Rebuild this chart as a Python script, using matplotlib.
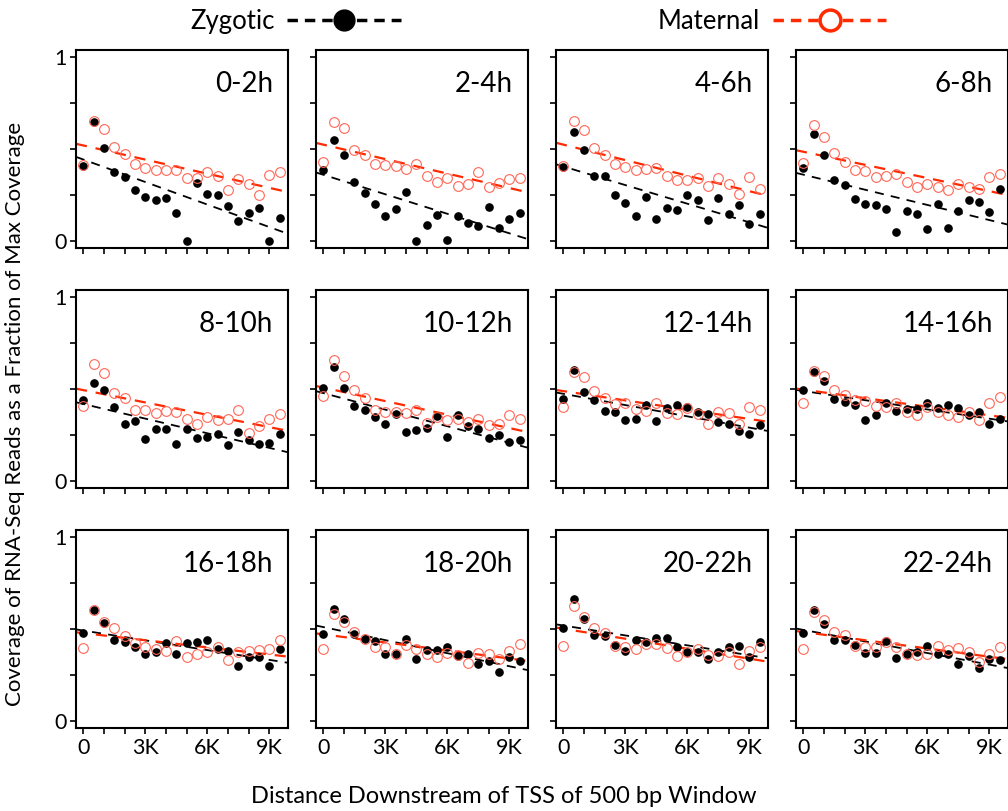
import numpy as np
import matplotlib
matplotlib.use("Agg")
import matplotlib.pyplot as plt
from matplotlib.lines import Line2D

plt.rcParams['font.family'] = ['Lato', 'DejaVu Sans']

# window start positions (bp downstream of TSS)
positions = np.arange(0, 10000, 500)

stages = ['0-2h', '2-4h', '4-6h', '6-8h', '8-10h', '10-12h',
          '12-14h', '14-16h', '16-18h', '18-20h', '20-22h', '22-24h']

zygotic = [
    [0.403, 0.647, 0.501, 0.373, 0.344, 0.275, 0.239, 0.221, 0.233, 0.150,
     0.000, 0.315, 0.251, 0.246, 0.186, 0.107, 0.152, 0.179, 0.000, 0.123],
    [0.383, 0.548, 0.467, 0.318, 0.260, 0.201, 0.132, 0.172, 0.266, 0.000,
     0.085, 0.141, 0.002, 0.132, 0.096, 0.081, 0.183, 0.071, 0.118, 0.148],
    [0.398, 0.593, 0.494, 0.351, 0.351, 0.248, 0.203, 0.134, 0.235, 0.119,
     0.175, 0.166, 0.248, 0.222, 0.112, 0.233, 0.145, 0.195, 0.092, 0.146],
    [0.396, 0.577, 0.468, 0.329, 0.300, 0.226, 0.197, 0.192, 0.172, 0.049,
     0.163, 0.145, 0.065, 0.199, 0.067, 0.159, 0.219, 0.208, 0.157, 0.280],
    [0.439, 0.533, 0.494, 0.400, 0.306, 0.324, 0.226, 0.278, 0.282, 0.197,
     0.278, 0.230, 0.239, 0.255, 0.193, 0.262, 0.222, 0.197, 0.206, 0.251],
    [0.501, 0.620, 0.503, 0.403, 0.382, 0.344, 0.307, 0.363, 0.262, 0.273,
     0.286, 0.349, 0.235, 0.354, 0.295, 0.278, 0.230, 0.246, 0.212, 0.222],
    [0.445, 0.599, 0.479, 0.436, 0.380, 0.374, 0.331, 0.333, 0.412, 0.325,
     0.396, 0.409, 0.398, 0.373, 0.360, 0.320, 0.307, 0.268, 0.251, 0.302],
    [0.490, 0.590, 0.542, 0.441, 0.430, 0.410, 0.327, 0.358, 0.423, 0.380,
     0.387, 0.391, 0.420, 0.394, 0.409, 0.396, 0.354, 0.371, 0.307, 0.336],
    [0.477, 0.602, 0.530, 0.436, 0.430, 0.398, 0.360, 0.371, 0.420, 0.360,
     0.421, 0.427, 0.439, 0.391, 0.378, 0.295, 0.344, 0.347, 0.298, 0.391],
    [0.472, 0.606, 0.550, 0.470, 0.445, 0.434, 0.365, 0.365, 0.445, 0.333,
     0.385, 0.385, 0.403, 0.351, 0.360, 0.307, 0.322, 0.264, 0.344, 0.322],
    [0.505, 0.662, 0.552, 0.467, 0.461, 0.409, 0.378, 0.436, 0.429, 0.452,
     0.452, 0.400, 0.373, 0.374, 0.336, 0.374, 0.398, 0.407, 0.344, 0.430],
    [0.477, 0.604, 0.523, 0.436, 0.438, 0.414, 0.369, 0.369, 0.432, 0.340,
     0.362, 0.371, 0.405, 0.365, 0.363, 0.309, 0.351, 0.284, 0.336, 0.329],
]

maternal = [
    [0.409, 0.653, 0.606, 0.508, 0.472, 0.418, 0.396, 0.383, 0.385, 0.385,
     0.340, 0.342, 0.371, 0.354, 0.275, 0.333, 0.309, 0.246, 0.358, 0.373],
    [0.429, 0.644, 0.611, 0.492, 0.465, 0.418, 0.409, 0.403, 0.392, 0.418,
     0.353, 0.318, 0.342, 0.295, 0.307, 0.374, 0.289, 0.313, 0.333, 0.342],
    [0.407, 0.651, 0.600, 0.501, 0.465, 0.414, 0.398, 0.383, 0.389, 0.394,
     0.353, 0.327, 0.327, 0.338, 0.295, 0.342, 0.306, 0.253, 0.347, 0.278],
    [0.423, 0.626, 0.561, 0.474, 0.425, 0.385, 0.380, 0.344, 0.353, 0.362,
     0.318, 0.289, 0.307, 0.293, 0.275, 0.309, 0.293, 0.278, 0.347, 0.360],
    [0.403, 0.633, 0.586, 0.477, 0.448, 0.382, 0.382, 0.365, 0.378, 0.373,
     0.335, 0.309, 0.345, 0.327, 0.335, 0.385, 0.260, 0.297, 0.333, 0.362],
    [0.459, 0.658, 0.570, 0.492, 0.448, 0.385, 0.371, 0.373, 0.367, 0.385,
     0.313, 0.347, 0.327, 0.333, 0.320, 0.335, 0.304, 0.309, 0.358, 0.335],
    [0.398, 0.590, 0.561, 0.488, 0.448, 0.418, 0.420, 0.391, 0.380, 0.420,
     0.365, 0.362, 0.392, 0.360, 0.307, 0.371, 0.365, 0.309, 0.401, 0.385],
    [0.421, 0.597, 0.571, 0.495, 0.463, 0.438, 0.432, 0.405, 0.398, 0.423,
     0.374, 0.356, 0.400, 0.374, 0.354, 0.345, 0.371, 0.329, 0.420, 0.452],
    [0.394, 0.602, 0.535, 0.503, 0.458, 0.420, 0.398, 0.392, 0.378, 0.434,
     0.345, 0.365, 0.374, 0.401, 0.329, 0.373, 0.378, 0.383, 0.391, 0.439],
    [0.389, 0.580, 0.537, 0.483, 0.445, 0.398, 0.403, 0.362, 0.409, 0.392,
     0.360, 0.345, 0.367, 0.356, 0.313, 0.367, 0.365, 0.333, 0.376, 0.416],
    [0.405, 0.622, 0.564, 0.505, 0.477, 0.407, 0.401, 0.389, 0.416, 0.418,
     0.394, 0.349, 0.373, 0.389, 0.358, 0.351, 0.373, 0.307, 0.378, 0.400],
    [0.387, 0.590, 0.548, 0.481, 0.467, 0.407, 0.398, 0.401, 0.425, 0.403,
     0.362, 0.356, 0.360, 0.407, 0.383, 0.396, 0.374, 0.318, 0.360, 0.398],
]

RED = '#ff2a00'
RED_PT = '#ff6655'
XLIM = (-350, 9900)
YLIM = (-0.04, 1.036)


def draw_panel(ax, label, zyg, mat, bottom_row, left_col):
    xs = np.array(XLIM, dtype=float)
    zfit = np.polyfit(positions, zyg, 1)
    mfit = np.polyfit(positions, mat, 1)
    ax.plot(positions, zyg, 'o', color='black', ms=5.2, zorder=3)
    ax.plot(positions, mat, 'o', mfc='none', mec=RED_PT, ms=7, mew=0.8, zorder=4)
    ax.plot(xs, np.polyval(zfit, xs), '--', color='black', lw=1.3,
            dashes=(5, 4), zorder=2)
    ax.plot(xs, np.polyval(mfit, xs), '--', color=RED, lw=1.6,
            dashes=(5, 4), zorder=2)
    ax.set_xlim(*XLIM)
    ax.set_ylim(*YLIM)
    ax.set_yticks([0, 0.25, 0.5, 0.75, 1])
    if left_col:
        ax.set_yticklabels(['0', '', '', '', '1'])
    else:
        ax.set_yticklabels([])
    ax.set_xticks(np.arange(0, 10000, 1000))
    if bottom_row:
        ax.set_xticklabels(['0', '', '', '3K', '', '', '6K', '', '', '9K'])
    else:
        ax.set_xticklabels([])
    ax.tick_params(direction='out', length=4, width=1.2, labelsize=15.5, pad=3)
    for s in ax.spines.values():
        s.set_linewidth(1.5)
    ax.text(0.93, 0.83, label, transform=ax.transAxes, ha='right',
            va='center', fontsize=20)


fig = plt.figure(figsize=(10.08, 8.11), dpi=100)

lefts = [0.0754, 0.3135, 0.5516, 0.7897]
bottoms = [0.6942, 0.3983, 0.1023]
w, h = 0.2103, 0.2441

for i, stage in enumerate(stages):
    r, c = divmod(i, 4)
    ax = fig.add_axes([lefts[c], bottoms[r], w, h])
    draw_panel(ax, stage, zygotic[i], maternal[i], r == 2, c == 0)

fig.text(0.015, 0.49, 'Coverage of RNA-Seq Reads as a Fraction of Max Coverage',
         rotation=90, ha='center', va='center', fontsize=16)
fig.text(0.5, 0.018, 'Distance Downstream of TSS of 500 bp Window',
         ha='center', va='center', fontsize=17)

zyg_h = Line2D([], [], color='black', ls='--', lw=2.5, dashes=(3, 2),
               marker='o', ms=15, mfc='black', mec='black')
mat_h = Line2D([], [], color=RED, ls='--', lw=2.5, dashes=(3, 2),
               marker='o', ms=15, mfc='white', mec=RED, mew=2.5)
for handle, name, xc in [(zyg_h, 'Zygotic', 0.293), (mat_h, 'Maternal', 0.766)]:
    fig.legend([handle], [name], loc='center', bbox_to_anchor=(xc, 0.974),
               frameon=False, markerfirst=False, handlelength=4.4,
               handletextpad=0.5, fontsize=18.5, borderpad=0)

fig.savefig('out.png', dpi=100)
